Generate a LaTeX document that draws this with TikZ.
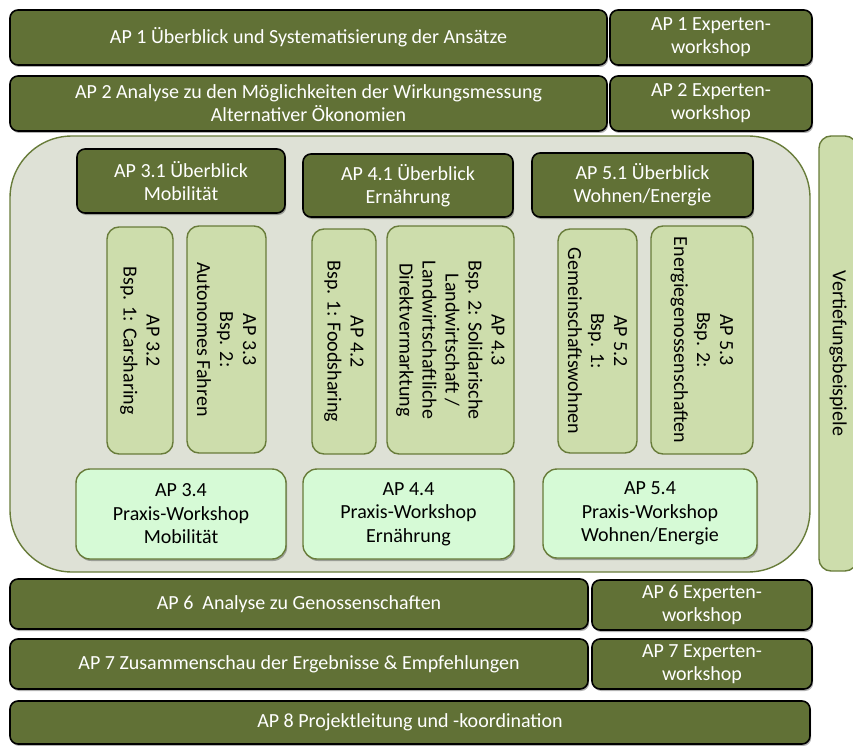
\documentclass[tikz,border=0pt]{standalone}
\usepackage{fontspec}
\setmainfont{Carlito}
\usetikzlibrary{shadows}

\definecolor{apdark}{RGB}{97,113,54}
\definecolor{apolive}{RGB}{104,124,58}
\definecolor{aplight}{RGB}{205,221,172}
\definecolor{apmint}{RGB}{214,250,214}
\definecolor{apgrey}{RGB}{222,225,214}

\begin{document}
\begin{tikzpicture}[x=1pt,y=-1pt,
  base/.style={rectangle, inner sep=0pt, outer sep=0pt, align=center,
    font=\fontsize{20}{23}\selectfont},
  softshadow/.style={drop shadow={shadow xshift=1.2pt, shadow yshift=-2pt, opacity=0.3, fill=black}},
  darkbox/.style={base, draw=black, line width=1.6pt, fill=apdark, text=white,
    rounded corners=8pt, softshadow},
  exbox/.style={base, draw=apolive, line width=1.4pt, fill=aplight, text=black,
    rounded corners=12pt, rotate=-90},
  praxisbox/.style={base, draw=apolive, line width=1.4pt, fill=apmint, text=black,
    rounded corners=14pt, font=\fontsize{20}{23.5}\selectfont, softshadow},
  groupbox/.style={rectangle, draw=apolive, line width=1.4pt, fill=apgrey,
    rounded corners=62pt, inner sep=0pt, outer sep=0pt}
]
\useasboundingbox (0,0) rectangle (853,746);

% top work packages
\node[darkbox, minimum width=597, minimum height=55] (ap1) at (308.5,37.5)
  {AP 1 Überblick und Systematisierung der Ansätze};
\node[darkbox, minimum width=202, minimum height=55] (ap1e) at (711,37.5)
  {AP 1 Experten-\\workshop};
\node[darkbox, minimum width=597, minimum height=55] (ap2) at (308.5,103.5)
  {AP 2 Analyse zu den Möglichkeiten der Wirkungsmessung\\Alternativer Ökonomien};
\node[darkbox, minimum width=202, minimum height=55] (ap2e) at (711,103.5)
  {AP 2 Experten-\\workshop};

% side bar for the case studies
\node[exbox, minimum width=435, minimum height=38] (vert) at (838,353.5)
  {Vertiefungsbeispiele};

% group of the three application fields
\node[groupbox, minimum width=800, minimum height=436] (grp) at (410,354) {};

\node[darkbox, minimum width=208, minimum height=64] (ap31) at (181,181)
  {AP 3.1 Überblick\\Mobilität};
\node[darkbox, minimum width=210, minimum height=63] (ap41) at (408,185.5)
  {AP 4.1 Überblick\\Ernährung};
\node[darkbox, minimum width=221, minimum height=64] (ap51) at (642.5,185)
  {AP 5.1 Überblick\\Wohnen/Energie};

% case studies (vertical text)
\node[exbox, minimum width=227, minimum height=66] (ap32) at (140,340.5)
  {AP 3.2\\Bsp. 1: Carsharing};
\node[exbox, minimum width=227, minimum height=79] (ap33) at (226.5,339.5)
  {AP 3.3\\Bsp. 2:\\Autonomes Fahren};
\node[exbox, minimum width=225, minimum height=64] (ap42) at (344,341.5)
  {AP 4.2\\Bsp. 1: Foodsharing};
\node[exbox, minimum width=228, minimum height=127] (ap43) at (450.5,340)
  {AP 4.3\\Bsp. 2: Solidarische\\Landwirtschaft /\\Landwirtschaftliche\\Direktvermarktung};
\node[exbox, minimum width=224, minimum height=79] (ap52) at (597.5,341)
  {AP 5.2\\Bsp. 1:\\Gemeinschaftswohnen};
\node[exbox, minimum width=228, minimum height=102] (ap53) at (702,340)
  {AP 5.3\\Bsp. 2:\\Energiegenossenschaften};

% practice workshops
\node[praxisbox, minimum width=210, minimum height=90] (ap34) at (181,514)
  {AP 3.4\\Praxis-Workshop\\Mobilität};
\node[praxisbox, minimum width=211, minimum height=90] (ap44) at (408.5,514)
  {AP 4.4\\Praxis-Workshop\\Ernährung};
\node[praxisbox, minimum width=214, minimum height=89] (ap54) at (650,513.5)
  {AP 5.4\\Praxis-Workshop\\Wohnen/Energie};

% bottom work packages
\node[darkbox, minimum width=578, minimum height=50] (ap6) at (299,604)
  {AP 6\ \ Analyse zu Genossenschaften};
\node[darkbox, minimum width=220, minimum height=50] (ap6e) at (702,605)
  {AP 6 Experten-\\workshop};
\node[darkbox, minimum width=578, minimum height=50] (ap7) at (299,664)
  {AP 7 Zusammenschau der Ergebnisse \& Empfehlungen};
\node[darkbox, minimum width=220, minimum height=50] (ap7e) at (702,664)
  {AP 7 Experten-\\workshop};
\node[darkbox, minimum width=800, minimum height=43] (ap8) at (410,722.5)
  {AP 8 Projektleitung und -koordination};
\end{tikzpicture}
\end{document}
